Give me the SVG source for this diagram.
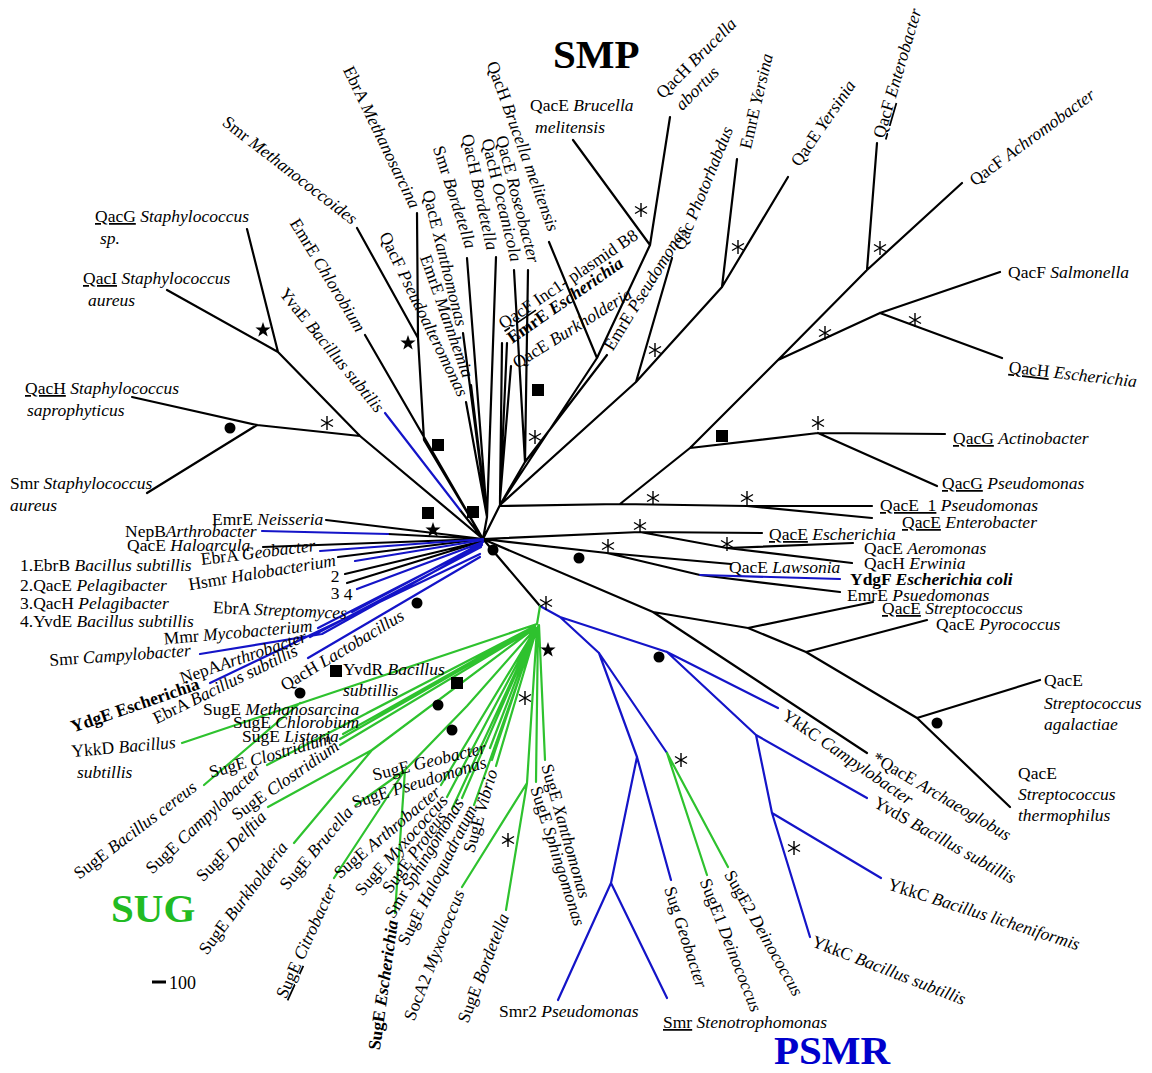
<svg xmlns="http://www.w3.org/2000/svg" width="1152" height="1073" viewBox="0 0 1152 1073">
<style>
.t{font-family:"Liberation Serif","Times New Roman",serif;font-size:17.5px;fill:#000}
.i{font-style:italic}
.b{font-weight:bold}
.u{text-decoration:underline}
.k{stroke:#000;stroke-width:2.2;fill:none;stroke-linejoin:round;stroke-linecap:round}
.bl{stroke:#1414c8;stroke-width:2.2;fill:none;stroke-linejoin:round;stroke-linecap:round}
.g{stroke:#2ec22e;stroke-width:2.2;fill:none;stroke-linejoin:round;stroke-linecap:round}
.big{font-family:"Liberation Serif","Times New Roman",serif;font-size:41px;font-weight:bold}
</style>
<defs>
<g id="ast" stroke="#000" stroke-width="1.4" fill="none"><path d="M0,-7V7M-6,-3.5L6,3.5M-6,3.5L6,-3.5"/></g>
<polygon id="star" points="0,-8 1.88,-2.59 7.6,-2.47 3.04,0.99 4.7,6.47 0,3.2 -4.7,6.47 -3.04,0.99 -7.6,-2.47 -1.88,-2.59" fill="#000"/>
<rect id="sq" x="-6" y="-6" width="12" height="12" fill="#000"/>
<circle id="dot" r="5.5" fill="#000"/>
</defs>
<rect width="1152" height="1073" fill="#fff"/>
<g id="connectors">
<path class="k" d="M247,229L278,352M167,290L278,352M278,352L360,436L483,539M132,397L257,425M147,493L257,425M257,425L360,436M357,228L418,338M417,213L418,338M418,338L424,440L483,539M365,335L483,539M460,510L483,539M466,402L487,517M471,385L487,517M463,333L487,517M467,258L487,517M496,257L487,517M487,517L483,539M500,505L483,539M502,343L500,500M507,343L500,500M511,366L500,500M500,500L500,505M514,270L525,462M528,270L525,462M607,355L525,462M525,462L500,505M549,242L597,358M597,358L650,245M573,140L650,245M670,117L650,245M597,358L500,505M500,505L636,382L722,287L788,177M672,258L636,382M737,159L722,287M500,506L620,504L747,506L872,506M747,506L872,518M620,504L690,448L778,360M690,448L818,433M818,433L945,434M818,433L937,486M778,360L867,270L962,183M867,270L877,143M778,360L880,313L1000,272M880,313L1002,358"/>
<path class="k" d="M326,520L483,539M388,534L483,539M263,547L483,539M338,557L483,539M345,574L483,541M347,583L483,541"/>
<path class="k" d="M483,539L607,553L731,564M607,553L700,575L840,592M483,539L640,532L762,533M640,532L727,548L853,543M727,548L852,563M485,540L653,612L867,753M653,612L748,628L806,652L917,718L1010,807M748,628L873,602M806,652L927,620M917,718L1040,680M483,539L540,606"/>
<path class="bl" d="M385,413L460,510M262,531L388,534M320,551L483,539M355,561L483,540M357,589L483,542M352,612L482,543M318,628L482,544M200,654L322,634L482,545M310,637L481,547M210,683L480,554M308,658L480,557M700,575L840,579"/>
<path class="bl" d="M540,606L560,617M560,617L599,653M560,617L667,652M599,653L637,757M599,653L667,753M637,757L611,883M637,757L671,880M611,883L558,1000M611,883L667,998M667,652L778,708M667,652L756,735M756,735L867,798M756,735L772,813M772,813L881,878M772,813L810,937"/>
<path class="g" d="M540,606L537,624M667,753L707,875M667,753L728,867M182,743L537,624M204,785L300,703M267,765L535,626M343,734L535,627M340,739L535,627M340,745L535,628M367,713L535,626M370,719L535,626M268,807L372,750M294,843L372,750M372,750L535,628M356,805L405,770M334,878L405,770M395,913L405,770M405,770L467,706L536,628M441,785L536,628M447,797L536,628M452,809L536,628M462,798L536,628M474,805L537,628M496,766L537,628M490,748L536,628M492,760L536,628M462,887L527,783M506,910L527,783M527,783L537,628M536,782L538,626M545,760L539,625"/>
</g>
<g id="markers">
<use href="#ast" x="327" y="423"/><use href="#ast" x="641" y="210"/><use href="#ast" x="655" y="350"/><use href="#ast" x="738" y="247"/><use href="#ast" x="880" y="248"/><use href="#ast" x="825" y="333"/><use href="#ast" x="915" y="320"/><use href="#ast" x="818" y="423"/><use href="#ast" x="653" y="498"/><use href="#ast" x="747" y="498"/><use href="#ast" x="640" y="526"/><use href="#ast" x="727" y="544"/><use href="#ast" x="608" y="546"/><use href="#ast" x="546" y="603"/><use href="#ast" x="535" y="437"/><use href="#ast" x="525" y="698"/><use href="#ast" x="508" y="840"/><use href="#ast" x="681" y="760"/><use href="#ast" x="794" y="848"/>
<use href="#star" x="263" y="330"/><use href="#star" x="408" y="343"/><use href="#star" x="433" y="530"/><use href="#star" x="548" y="650"/>
<use href="#sq" x="438" y="445"/><use href="#sq" x="428" y="513"/><use href="#sq" x="473" y="512"/><use href="#sq" x="538" y="390"/><use href="#sq" x="722" y="436"/><use href="#sq" x="336" y="671"/><use href="#sq" x="457" y="683"/>
<use href="#dot" x="230" y="428"/><use href="#dot" x="493" y="550"/><use href="#dot" x="579" y="558"/><use href="#dot" x="417" y="603"/><use href="#dot" x="659" y="657"/><use href="#dot" x="937" y="723"/><use href="#dot" x="300" y="693"/><use href="#dot" x="438" y="705"/><use href="#dot" x="452" y="730"/>
<path d="M152,982H166" stroke="#000" stroke-width="3"/>
</g>
<g id="clade-labels">
<text id="smp" class="big" x="553" y="68" fill="#000">SMP</text>
<text id="sug" class="big" x="111" y="922" fill="#22bb22">SUG</text>
<text id="psmr" class="big" x="774" y="1064" fill="#0000cc">PSMR</text>
<text id="scale" class="t" x="169" y="989" style="font-size:18px">100</text>
</g>
<g id="labels-h" class="t">
<g id="n-qacg-staph"><text x="95" y="222"><tspan class="u">QacG</tspan> <tspan class="i">Staphylococcus</tspan></text><text x="100" y="244" class="i">sp.</text></g>
<g id="n-qaci"><text x="83" y="284"><tspan class="u">QacI</tspan> <tspan class="i">Staphylococcus</tspan></text><text x="88" y="306" class="i">aureus</text></g>
<g id="n-qach-sapro"><text x="25" y="394"><tspan class="u">QacH</tspan> <tspan class="i">Staphylococcus</tspan></text><text x="27" y="416" class="i">saprophyticus</text></g>
<g id="n-smr-staph"><text x="10" y="489">Smr <tspan class="i">Staphylococcus</tspan></text><text x="10" y="511" class="i">aureus</text></g>
<g id="n-qace-brucella"><text x="530" y="111">QacE <tspan class="i">Brucella</tspan></text><text x="535" y="133" class="i">melitensis</text></g>
<g id="n-qacf-salmonella"><text x="1008" y="278">QacF <tspan class="i">Salmonella</tspan></text></g>
<g id="n-qacg-actino"><text x="953" y="444"><tspan class="u">QacG</tspan> <tspan class="i">Actinobacter</tspan></text></g>
<g id="n-qacg-pseudo"><text x="942" y="489"><tspan class="u">QacG</tspan> <tspan class="i">Pseudomonas</tspan></text></g>
<g id="n-qace1"><text x="880" y="511"><tspan class="u">QacE_1</tspan> <tspan class="i">Pseudomonas</tspan></text></g>
<g id="n-qace-entero"><text x="902" y="528"><tspan class="u">QacE</tspan> <tspan class="i">Enterobacter</tspan></text></g>
<g id="n-qace-esch"><text x="769" y="540"><tspan class="u">QacE</tspan> <tspan class="i">Escherichia</tspan></text></g>
<g id="n-qace-aero"><text x="864" y="554">QacE <tspan class="i">Aeromonas</tspan></text></g>
<g id="n-qach-erwinia"><text x="864" y="569">QacH <tspan class="i">Erwinia</tspan></text></g>
<g id="n-qace-lawsonia"><text x="729" y="573">QacE <tspan class="i">Lawsonia</tspan></text></g>
<g id="n-ydgf"><text x="850" y="585" class="b">YdgF <tspan class="i">Escherichia coli</tspan></text></g>
<g id="n-emre-psued"><text x="847" y="601">EmrE <tspan class="i">Psuedomonas</tspan></text></g>
<g id="n-qace-strep"><text x="882" y="614"><tspan class="u">QacE</tspan> <tspan class="i">Streptococcus</tspan></text></g>
<g id="n-qace-pyro"><text x="936" y="630">QacE <tspan class="i">Pyrococcus</tspan></text></g>
<g id="n-agalactiae"><text x="1044" y="686">QacE</text><text x="1044" y="709" class="i">Streptococcus</text><text x="1044" y="730" class="i">agalactiae</text></g>
<g id="n-thermophilus"><text x="1018" y="779">QacE</text><text x="1018" y="800" class="i">Streptococcus</text><text x="1018" y="821" class="i">thermophilus</text></g>
<g id="n-smr2"><text x="499" y="1017">Smr2 <tspan class="i">Pseudomonas</tspan></text></g>
<g id="n-smr-steno"><text x="663" y="1028"><tspan class="u">Smr</tspan> <tspan class="i">Stenotrophomonas</tspan></text></g>
<g id="n-emre-neisseria"><text x="212" y="525">EmrE <tspan class="i">Neisseria</tspan></text></g>
<g id="n-nepb"><text x="125" y="537">NepB<tspan class="i">Arthrobacter</tspan></text></g>
<g id="n-qace-haloarcula"><text x="127" y="551">QacE <tspan class="i">Haloarcula</tspan></text></g>
<g id="n-legend"><text x="20" y="571">1.EbrB <tspan class="i">Bacillus subtillis</tspan></text><text x="20" y="591">2.QacE <tspan class="i">Pelagibacter</tspan></text><text x="20" y="609">3.QacH <tspan class="i">Pelagibacter</tspan></text><text x="20" y="627">4.YvdE <tspan class="i">Bacillus subtillis</tspan></text></g>
<g id="n-num"><text x="335" y="582" text-anchor="middle">2</text><text x="335" y="599" text-anchor="middle">3</text><text x="348" y="600" text-anchor="middle">4</text></g>
<g id="n-yvdr"><text x="343" y="675">YvdR <tspan class="i">Bacillus</tspan></text><text x="343" y="696" class="i">subtillis</text></g>
<g id="n-suge-methano"><text x="203" y="715">SugE <tspan class="i">Methanosarcina</tspan></text></g>
<g id="n-suge-chloro"><text x="233" y="728">SugE <tspan class="i">Chlorobium</tspan></text></g>
<g id="n-suge-listeria"><text x="242" y="742">SugE <tspan class="i">Listeria</tspan></text></g>
<g id="n-ykkd"><text transform="translate(72,757) rotate(-5)">YkkD <tspan class="i">Bacillus</tspan></text><text x="77" y="778" class="i">subtillis</text></g>
</g>
<g id="labels-r" class="t" text-anchor="middle">
<g id="n-smr-methanococ"><text transform="translate(290,170) rotate(37.7)" y="6">Smr <tspan class="i">Methanococcoides</tspan></text></g>
<g id="n-ebra-methanos"><text transform="translate(382,137) rotate(64.2)" y="6">EbrA <tspan class="i">Methanosarcina</tspan></text></g>
<g id="n-emre-chloro"><text transform="translate(328,275) rotate(58.7)" y="6">EmrE <tspan class="i">Chlorobium</tspan></text></g>
<g id="n-yvae"><text transform="translate(332,350) rotate(50.8)" y="6">YvaE <tspan class="i">Bacillus subtilis</tspan></text></g>
<g id="n-qacf-pseudoalt"><text transform="translate(424,314) rotate(64)" y="6">QacF <tspan class="i">Pseudoalteromonas</tspan></text></g>
<g id="n-qace-xantho"><text transform="translate(445,258) rotate(75.9)" y="6">QacE <tspan class="i">Xanthomonas</tspan></text></g>
<g id="n-emre-mannh"><text transform="translate(447,316) rotate(70.5)" y="6">EmrE <tspan class="i">Mannhemia</tspan></text></g>
<g id="n-smr-bord"><text transform="translate(455,197) rotate(72)" y="6">Smr <tspan class="i">Bordetella</tspan></text></g>
<g id="n-qach-bord"><text transform="translate(480,192) rotate(77.7)" y="6">QacH <tspan class="i">Bordetella</tspan></text></g>
<g id="n-qach-ocean"><text transform="translate(502,200) rotate(76.5)" y="6">QacH <tspan class="i">Oceanicola</tspan></text></g>
<g id="n-qace-roseo"><text transform="translate(518,199) rotate(75.5)" y="6">QacE <tspan class="i">Roseobacter</tspan></text></g>
<g id="n-qach-brumel"><text transform="translate(523,146) rotate(69.9)" y="6">QacH <tspan class="i">Brucella melitensis</tspan></text></g>
<g id="n-qacf-inc1"><text transform="translate(568,279) rotate(-34)" y="6"><tspan class="u">QacF</tspan> Inc1- plasmid B8</text></g>
<g id="n-emre-esch"><text class="b" transform="translate(565,300) rotate(-34.8)" y="6">EmrE <tspan class="i">Escherichia</tspan></text></g>
<g id="n-qace-burk"><text transform="translate(572,328) rotate(-31.8)" y="6">QacE <tspan class="i">Burkholderia</tspan></text></g>
<g id="n-emre-pseudo"><text transform="translate(645,288) rotate(-58.3)" y="6">EmrE <tspan class="i">Pseudomonas</tspan></text></g>
<g id="n-qac-photo"><text transform="translate(703,188) rotate(-67.9)" y="6">Qac <tspan class="i">Photorhabdus</tspan></text></g>
<g id="n-emre-yersina"><text transform="translate(756,101) rotate(-76.7)" y="6">EmrE <tspan class="i">Yersina</tspan></text></g>
<g id="n-qace-yersinia"><text transform="translate(823,123) rotate(-55.4)" y="6">QacE <tspan class="i">Yersinia</tspan></text></g>
<g id="n-qacf-entero"><text transform="translate(897,73) rotate(-73.7)" y="6"><tspan class="u">QacF</tspan> <tspan class="i">Enterobacter</tspan></text></g>
<g id="n-qacf-achromo"><text transform="translate(1032,137) rotate(-36.3)" y="6">QacF <tspan class="i">Achromobacter</tspan></text></g>
<g id="n-qach-abortus"><text transform="translate(696,58) rotate(-45)" y="6">QacH <tspan class="i">Brucella</tspan></text><text class="i" transform="translate(697,88) rotate(-45)" y="6">abortus</text></g>
<g id="n-qach-esch"><text transform="translate(1073,374) rotate(6.5)" y="6"><tspan class="u">QacH</tspan> <tspan class="i">Escherichia</tspan></text></g>
<g id="n-archaeo"><text transform="translate(942,796) rotate(30.5)" y="6">*QacE <tspan class="i">Archaeoglobus</tspan></text></g>
<g id="n-ykkc-campy"><text transform="translate(848,757) rotate(34.5)" y="6">YkkC <tspan class="i">Campylobacter</tspan></text></g>
<g id="n-yvds"><text transform="translate(945,840) rotate(29.2)" y="6">YvdS <tspan class="i">Bacillus subtillis</tspan></text></g>
<g id="n-ykkc-lichen"><text transform="translate(984,914) rotate(17.8)" y="6">YkkC <tspan class="i">Bacillus licheniformis</tspan></text></g>
<g id="n-ykkc-subt"><text transform="translate(889,970) rotate(21.3)" y="6">YkkC <tspan class="i">Bacillus subtillis</tspan></text></g>
<g id="n-sug-geo"><text transform="translate(686,937) rotate(72)" y="6">Sug <tspan class="i">Geobacter</tspan></text></g>
<g id="n-suge1"><text transform="translate(731,945) rotate(68.6)" y="6">SugE1 <tspan class="i">Deinococcus</tspan></text></g>
<g id="n-suge2"><text transform="translate(764,933) rotate(60.4)" y="6">SugE2 <tspan class="i">Deinococcus</tspan></text></g>
<g id="n-ebra-geo"><text transform="translate(258,552) rotate(-7)" y="6">EbrA <tspan class="i">Geobacter</tspan></text></g>
<g id="n-hsmr"><text transform="translate(262,572) rotate(-9.5)" y="6">Hsmr <tspan class="i">Halobacterium</tspan></text></g>
<g id="n-ebra-strepto"><text transform="translate(280,610) rotate(2.5)" y="6">EbrA <tspan class="i">Streptomyces</tspan></text></g>
<g id="n-mmr"><text transform="translate(238,632) rotate(-5)" y="6">Mmr <tspan class="i">Mycobacterium</tspan></text></g>
<g id="n-smr-campy"><text transform="translate(120,655) rotate(-4)" y="6">Smr <tspan class="i">Campylobacter</tspan></text></g>
<g id="n-nepa"><text transform="translate(243,657) rotate(-18.7)" y="6">NepA<tspan class="i">Arthrobacter</tspan></text></g>
<g id="n-ydge"><text class="b" transform="translate(135,705) rotate(-19)" y="6">YdgE Escherichia</text></g>
<g id="n-ebra-bsub"><text transform="translate(225,684) rotate(-26)" y="6">EbrA <tspan class="i">Bacillus subtillis</tspan></text></g>
<g id="n-qach-lacto"><text transform="translate(342,650) rotate(-31)" y="6">QacH <tspan class="i">Lactobacillus</tspan></text></g>
<g id="n-suge-clos1"><text transform="translate(270,755) rotate(-16)" y="6">SugE <tspan class="i">Clostridium</tspan></text></g>
<g id="n-suge-bcereus"><text transform="translate(135,830) rotate(-37.2)" y="6">SugE <tspan class="i">Bacillus cereus</tspan></text></g>
<g id="n-suge-campy"><text transform="translate(203,819) rotate(-43.2)" y="6">SugE <tspan class="i">Campylobacter</tspan></text></g>
<g id="n-suge-clos2"><text transform="translate(285,780) rotate(-34.9)" y="6">SugE <tspan class="i">Clostridium</tspan></text></g>
<g id="n-suge-delftia"><text transform="translate(231,846) rotate(-45)" y="6">SugE <tspan class="i">Delftia</tspan></text></g>
<g id="n-suge-burk"><text transform="translate(243,898) rotate(-53)" y="6">SugE <tspan class="i">Burkholderia</tspan></text></g>
<g id="n-suge-brucella"><text transform="translate(316,848) rotate(-49.5)" y="6">SugE <tspan class="i">Brucella</tspan></text></g>
<g id="n-suge-citro"><text transform="translate(306,941) rotate(-65.5)" y="6"><tspan class="u">SugE</tspan> <tspan class="i">Citrobacter</tspan></text></g>
<g id="n-suge-arthro"><text transform="translate(387,832) rotate(-40)" y="6">SugE <tspan class="i">Arthrobacter</tspan></text></g>
<g id="n-suge-myxo"><text transform="translate(401,845) rotate(-47.8)" y="6">SugE <tspan class="i">Myxococcus</tspan></text></g>
<g id="n-suge-proteus"><text transform="translate(414,852) rotate(-53.7)" y="6">SugE <tspan class="i">Proteus</tspan></text></g>
<g id="n-smr-sphingo"><text transform="translate(424,858) rotate(-58.7)" y="6">Smr <tspan class="i">Sphingomonas</tspan></text></g>
<g id="n-suge-esch"><text class="b" transform="translate(383,985) rotate(-82)" y="6">SugE <tspan class="i">Escherichia</tspan></text></g>
<g id="n-suge-haloq"><text transform="translate(437,875) rotate(-63)" y="6">SugE <tspan class="i">Haloquadratum</tspan></text></g>
<g id="n-suge-vibrio"><text transform="translate(480,811) rotate(-74)" y="6">SugE <tspan class="i">Vibrio</tspan></text></g>
<g id="n-soca2"><text transform="translate(434,955) rotate(-68.6)" y="6">SocA2 <tspan class="i">Myxococcus</tspan></text></g>
<g id="n-suge-bord"><text transform="translate(483,968) rotate(-69)" y="6">SugE <tspan class="i">Bordetella</tspan></text></g>
<g id="n-suge-geo"><text transform="translate(429,761) rotate(-13.8)" y="6">SugE <tspan class="i">Geobacter</tspan></text></g>
<g id="n-suge-pseudo"><text transform="translate(419,782) rotate(-17.1)" y="6">SugE <tspan class="i">Pseudomonas</tspan></text></g>
<g id="n-suge-xantho"><text transform="translate(566,831) rotate(74)" y="6">SugE <tspan class="i">Xanthomonas</tspan></text></g>
<g id="n-suge-sphingo"><text transform="translate(558,856) rotate(72.4)" y="6">SugE <tspan class="i">Sphingomonas</tspan></text></g>
</g>
</svg>
